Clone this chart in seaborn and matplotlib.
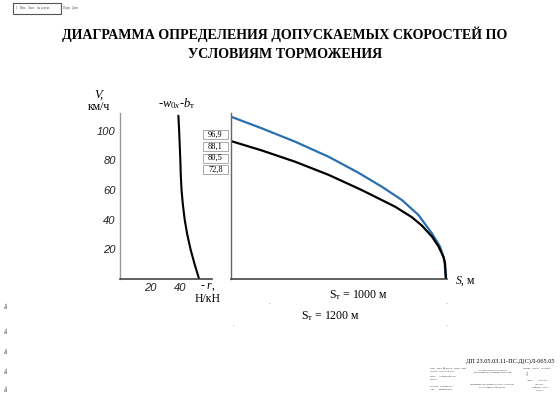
import matplotlib
matplotlib.use("Agg")
import matplotlib.pyplot as plt
import seaborn as sns
import pandas as pd
from matplotlib.patches import Rectangle

sns.set_theme(style="white")
plt.rcParams['font.family'] = ['Liberation Serif', 'DejaVu Serif']
plt.rcParams['mathtext.fontset'] = 'custom'
plt.rcParams['mathtext.rm'] = 'Liberation Serif'
plt.rcParams['mathtext.it'] = 'Liberation Serif:italic'
plt.rcParams['text.color'] = 'black'

# ---- data ----
# left panel: specific braking force curve (-r, N/kN) vs speed (km/h)
resist_r = [38.9, 39.4, 39.8, 40.2, 40.5, 41.0, 41.9, 43.1, 44.8, 47.0, 49.7, 52.7]
resist_v = [110, 100, 90, 80, 70, 60, 50, 40, 30, 20, 10, 0]
# right panel: braking curves V(S)
s_blue = [0, 172, 359, 546, 714, 845, 958, 1051, 1126, 1172, 1196, 1205]
v_blue = [109.3, 101.5, 92.5, 82.4, 71.6, 62.2, 53.2, 43.1, 30.8, 21.8, 12.8, 0]
s_black = [0, 172, 359, 546, 733, 920, 1013, 1070, 1126, 1163, 1191, 1200, 1205]
v_black = [92.9, 86.6, 79.0, 70.2, 59.9, 48.7, 41.7, 36.0, 28.7, 22.0, 15.0, 10.6, 0]
speed_boxes = ["96,9", "88,1", "80,5", "72,8"]
v_ticks = [20, 40, 60, 80, 100]
r_ticks = [20, 40]
title = "ДИАГРАММА ОПРЕДЕЛЕНИЯ ДОПУСКАЕМЫХ СКОРОСТЕЙ ПО\nУСЛОВИЯМ ТОРМОЖЕНИЯ"

W, H = 560, 396
fig = plt.figure(figsize=(W / 100, H / 100), dpi=100)
fig.patch.set_facecolor("white")


def fx(x):
    return x / W


def fy(y):
    return 1 - y / H


bottom = fy(279)
height = (279 - 112.7) / H
ax1 = fig.add_axes([fx(120), bottom, (212 - 120) / W, height])
ax2 = fig.add_axes([fx(231), bottom, (447 - 231) / W, height])

df1 = pd.DataFrame({"r": resist_r, "v": resist_v})
sns.lineplot(data=df1, x="r", y="v", sort=False, ax=ax1, color="black", lw=1.5)
ax1.set_xlim(0, 61.3)
ax1.set_ylim(0, 112)
ax1.set_xticks(r_ticks)
ax1.set_yticks(v_ticks)
tick_font = dict(family="Liberation Sans", style="italic", size=8)
ax1.set_xticklabels([str(t) for t in r_ticks], fontdict=tick_font)
ax1.set_yticklabels([str(t) for t in v_ticks], fontdict=tick_font)
ax1.tick_params(length=0, pad=3, colors="#222222")

dfb = pd.DataFrame({"s": s_blue, "v": v_blue})
dfk = pd.DataFrame({"s": s_black, "v": v_black})
sns.lineplot(data=dfb, x="s", y="v", sort=False, ax=ax2, color="#2a6fb0", lw=1.6)
sns.lineplot(data=dfk, x="s", y="v", sort=False, ax=ax2, color="black", lw=1.6)
ax2.set_xlim(0, 1211)
ax2.set_ylim(0, 112)
ax2.set_xticks([])
ax2.set_yticks([])

for ax in (ax1, ax2):
    ax.set_xlabel("")
    ax.set_ylabel("")
    ax.patch.set_alpha(0)
    for sp in ("top", "right"):
        ax.spines[sp].set_visible(False)
    ax.spines["bottom"].set_color("#444444")
    ax.spines["bottom"].set_linewidth(1.2)
    ax.spines["left"].set_linewidth(1.0)
ax1.spines["left"].set_color("#999999")
ax2.spines["left"].set_color("#666666")

# title
tl = title.split("\n")
fig.text(fx(285), fy(34), tl[0], ha="center", va="center", fontsize=10.1, fontweight="bold")
fig.text(fx(285), fy(55), tl[1], ha="center", va="center", fontsize=10.1, fontweight="bold")

# axis labels
fig.text(fx(99), fy(95), "V,", style="italic", ha="center", va="center", fontsize=9)
fig.text(fx(99), fy(107), "км/ч", ha="center", va="center", fontsize=8.5)
fig.text(fx(177), fy(104), r"-$w_{0x}$-$b_{\mathrm{т}}$", ha="center", va="center", fontsize=9)
fig.text(fx(208), fy(287), r"- $r$,", ha="center", va="center", fontsize=8.5)
fig.text(fx(208), fy(299), "Н/кН", ha="center", va="center", fontsize=8.5)
fig.text(fx(465), fy(281), r"$S$, м", ha="center", va="center", fontsize=8.5)
fig.text(fx(358), fy(295), r"$\mathrm{S}_{\mathrm{т}}$ = 1000 м", ha="center", va="center", fontsize=8.5)
fig.text(fx(330), fy(316), r"$\mathrm{S}_{\mathrm{т}}$ = 1200 м", ha="center", va="center", fontsize=8.5)
for (x, y) in [(269, 303), (446, 303), (233, 324), (446, 324)]:
    fig.text(fx(x), fy(y), ".", ha="center", va="center", fontsize=5, color="#555555")

# speed boxes
box_y = [130, 142, 153.5, 165]
for lab, y0 in zip(speed_boxes, box_y):
    fig.add_artist(Rectangle((fx(203), fy(y0 + 9)), 25 / W, 9 / H,
                             transform=fig.transFigure, fill=False,
                             edgecolor="#aaaaaa", lw=0.7))
    fig.text(fx(215.5), fy(y0 + 4.5), lab, ha="center", va="center", fontsize=6)

# top-left stamp box
fig.add_artist(Rectangle((fx(13), fy(14)), 48 / W, 11 / H, transform=fig.transFigure,
                         fill=False, edgecolor="#555555", lw=0.8))
fig.text(fx(16), fy(8.5), "1   Изм.   Лист    № докум.", fontsize=2.2, va="center", color="#444444")
fig.text(fx(63), fy(8.5), "Подп.  Дата   ", fontsize=2.2, va="center", color="#444444")

# left edge marks
for y in [305, 330, 350, 370, 388]:
    fig.text(fx(7), fy(y), "Инв.", rotation=90, fontsize=2.5, ha="center", va="center", color="#333333")

# bottom-right stamp
fig.text(fx(554), fy(361), "ДП 23.05.03.11-ПС.Д(С)Л-065.05", ha="right", va="center", fontsize=4.5)
stamp_left = ["Изм.   Лист  № докум.  Подп.  Дата",
              "Разраб.   Кузнецов Д.И.",
              "Пров.     Стебнинова Н.Б.",
              "Т.контр.",
              "",
              "Н.контр.  Кобзева М.С.",
              "Утв.       Рябинин В.В."]
for i, t in enumerate(stamp_left):
    fig.text(fx(430), fy(369 + i * 3.4), t, fontsize=1.7, va="center", color="#333333")
fig.text(fx(492), fy(371), "Тяговый расчет и его анализ", fontsize=1.7, ha="center", color="#333333")
fig.text(fx(492), fy(374), "Обоснование допускаемых скоростей", fontsize=1.7, ha="center", color="#333333")
fig.text(fx(492), fy(385), "Диаграмма определения допуск. скоростей", fontsize=1.7, ha="center", color="#333333")
fig.text(fx(492), fy(388), "по условиям торможения", fontsize=1.7, ha="center", color="#333333")
fig.text(fx(537), fy(369), "Литера    Масса    Масштаб", fontsize=1.7, ha="center", color="#333333")
fig.text(fx(527), fy(375), "Д", fontsize=2, ha="center", color="#333333")
fig.text(fx(537), fy(381), "Лист 1        Листов 1", fontsize=1.7, ha="center", color="#333333")
fig.text(fx(540), fy(385), "ДВГУПС", fontsize=1.7, ha="center", color="#333333")
fig.text(fx(540), fy(388), "Кафедра «ТПС»", fontsize=1.7, ha="center", color="#333333")
fig.text(fx(540), fy(391), "2024 г.", fontsize=1.7, ha="center", color="#333333")

fig.savefig("out.png", dpi=100, facecolor="white")
